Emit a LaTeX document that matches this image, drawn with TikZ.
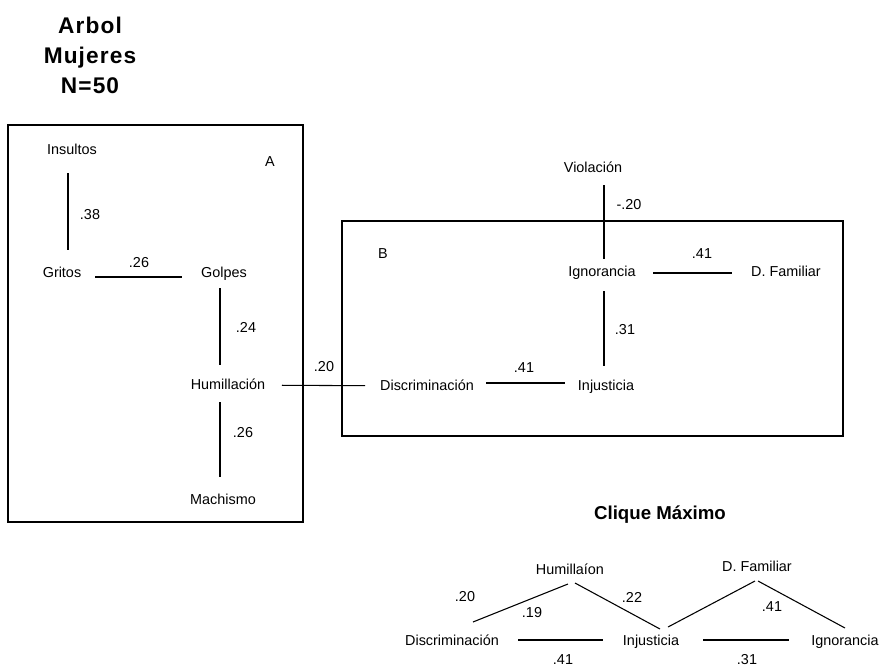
\documentclass[tikz,border=0pt]{standalone}
\usepackage{fontspec}
\setmainfont{Liberation Sans}
\newfontfamily\titlefont{Liberation Sans}[LetterSpace=5]
\usepackage{tikz}

\tikzset{
  word/.style={font=\fontsize{10.8}{12}\selectfont, inner sep=0.75pt, text height=8pt, text depth=2pt},
  wgt/.style={font=\fontsize{10.8}{12}\selectfont, inner sep=0.75pt},
  lnk/.style={line width=0.8pt},
}

\begin{document}
\begin{tikzpicture}[x=0.75pt,y=0.75pt,yscale=-1,xscale=1]
        \useasboundingbox (0,0) rectangle (883,669);

        % Title
        \node [font=\titlefont\bfseries\fontsize{17}{22.5}\selectfont, align=center, inner sep=0pt] (title) at (90,55) {Arbol\\Mujeres\\N=50};

        %Shape: Rectangle [box A]
        \draw [lnk] (8,125) rectangle (303,522);
        %Shape: Rectangle [box B]
        \draw [lnk] (342,221) rectangle (843,436);
        \node [wgt] (boxa) at (270,162) {A};
        \node [wgt] (boxb) at (383,254) {B};

        % Text Nodes (tree)
        \node [word] (ins) at (72,150) {Insultos};
        \node [word] (gri) at (62,273) {Gritos};
        \node [word] (gol) at (224,273) {Golpes};
        \node [word] (hum) at (228,385) {Humillación};
        \node [word] (mac) at (223,500) {Machismo};
        \node [word] (vio) at (593,168) {Violación};
        \node [word] (ign) at (602,272) {Ignorancia};
        \node [word] (dfa) at (786,272) {D. Familiar};
        \node [word] (dis) at (427,386) {Discriminación};
        \node [word] (inj) at (606,386) {Injusticia};

        %Straight Lines (tree)
        \draw [lnk, shorten <=17.25pt, shorten >=17.25pt] ([xshift=-3pt]ins.center) -- ([xshift=4.5pt]gri.center);
        \draw [lnk, shorten <=24.75pt, shorten >=31.5pt] ([yshift=3pt]gri.center) -- ([yshift=3pt]gol.center);
        \draw [lnk, shorten <=11.25pt, shorten >=15pt] ([xshift=-3pt]gol.center) -- ([xshift=-6pt]hum.center);
        \draw [lnk, shorten <=12.75pt, shorten >=17.25pt] ([xshift=-6pt]hum.center) -- ([xshift=-2.25pt]mac.center);
        \draw [lnk, shorten <=40.5pt, shorten >=46.5pt] (hum.center) -- (dis.center);
        \draw [lnk, shorten <=12.75pt, shorten >=9.75pt] ([xshift=8.25pt]vio.center) -- ([xshift=1.5pt]ign.center);
        \draw [lnk, shorten <=38.25pt, shorten >=40.5pt] ([yshift=0.75pt]ign.center) -- ([yshift=0.75pt]dfa.center);
        \draw [lnk, shorten <=14.25pt, shorten >=15pt] ([xshift=1.5pt]ign.center) -- ([xshift=-1.5pt]inj.center);
        \draw [lnk, shorten <=44.25pt, shorten >=30.75pt] ([yshift=-2.25pt]dis.center) -- ([yshift=-2.25pt]inj.center);

        % Weights (tree)
        \node [wgt] (w1) at (90,215) {.38};
        \node [wgt] (w2) at (139,263) {.26};
        \node [wgt] (w3) at (246,327) {.24};
        \node [wgt] (w4) at (243,433) {.26};
        \node [wgt] (w5) at (324,367) {.20};
        \node [wgt] (w6) at (629,205) {-.20};
        \node [wgt] (w7) at (702,254) {.41};
        \node [wgt] (w8) at (625,330) {.31};
        \node [wgt] (w9) at (524,368) {.41};

        % Clique
        \node [font=\bfseries\fontsize{14}{16}\selectfont, inner sep=0pt] (clq) at (660,515) {Clique Máximo};

        \node [word] (hum2) at (570,570) {Humillaíon};
        \node [word] (dfa2) at (757,567) {D. Familiar};
        \node [word] (dis2) at (452,641) {Discriminación};
        \node [word] (inj2) at (651,641) {Injusticia};
        \node [word] (ign2) at (845,641) {Ignorancia};

        %Straight Lines (clique)
        \draw [lnk] ([xshift=-1.5pt,yshift=10.5pt]hum2.center) -- ([xshift=15.75pt,yshift=-14.25pt]dis2.center);
        \draw [lnk] ([xshift=3.75pt,yshift=9.75pt]hum2.center) -- ([xshift=6.75pt,yshift=-9pt]inj2.center);
        \draw [lnk] ([xshift=-1.5pt,yshift=10.5pt]dfa2.center) -- ([xshift=12.75pt,yshift=-10.5pt]inj2.center);
        \draw [lnk] ([xshift=0.75pt,yshift=10.5pt]dfa2.center) -- ([yshift=-9.75pt]ign2.center);
        \draw [lnk, shorten <=49.5pt, shorten >=36pt] ([yshift=-0.75pt]dis2.center) -- ([yshift=-0.75pt]inj2.center);
        \draw [lnk, shorten <=39pt, shorten >=42pt] ([yshift=-0.75pt]inj2.center) -- ([yshift=-0.75pt]ign2.center);

        % Weights (clique)
        \node [wgt] (c1) at (465,597) {.20};
        \node [wgt] (c2) at (532,613) {.19};
        \node [wgt] (c3) at (632,597) {.22};
        \node [wgt] (c4) at (772,607) {.41};
        \node [wgt] (c5) at (563,660) {.41};
        \node [wgt] (c6) at (747,660) {.31};

\end{tikzpicture}
\end{document}
